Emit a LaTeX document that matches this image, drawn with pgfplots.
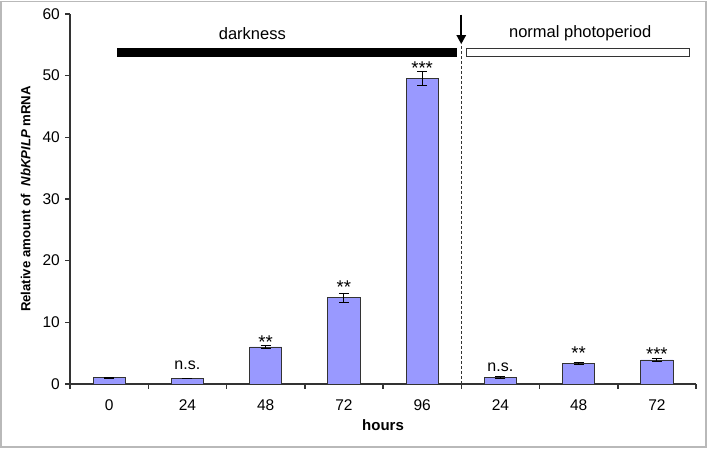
\documentclass[border=0pt]{standalone}
\usepackage{fontspec}
\setmainfont{Liberation Sans}
\usepackage{pgfplots}
\pgfplotsset{compat=1.18}
\usetikzlibrary{arrows.meta}
\definecolor{barfill}{HTML}{9999FF}
\definecolor{axgray}{HTML}{333333}

\begin{document}
\fontsize{15}{18}\selectfont
\begin{tikzpicture}
\begin{axis}[
  name=ax,
  scale only axis, width=626pt, height=370pt,
  xmin=-0.5, xmax=7.5, ymin=0, ymax=60,
  axis x line*=bottom, axis y line*=left,
  axis line style={axgray, line width=1.8pt},
  xtick={0,...,7},
  xticklabels={0,24,48,72,96,24,48,72},
  major x tick style={draw=none},
  minor xtick={-0.5,0.5,...,7.5},
  ytick={0,10,...,60},
  tick align=outside,
  major tick length=5pt, minor tick length=5pt,
  tick style={axgray, line width=1.5pt},
  ticklabel style={font=\fontsize{15.5}{18}\selectfont},
  xticklabel style={yshift=-5pt},
  /pgf/number format/assume math mode=true,
  clip=false,
  xlabel={\textbf{hours}},
  ylabel={\textbf{Relative amount of \ \textit{NbKPILP} mRNA}},
  every axis x label/.style={at={(axis description cs:0.5,-0.111)}, anchor=center,
    font=\fontsize{15}{18}\selectfont},
  every axis y label/.style={at={(axis description cs:-0.071,0.5)}, rotate=90, anchor=center,
    font=\fontsize{13.2}{16}\selectfont},
]
% bars with standard errors
\addplot[ybar, bar width=0.41, fill=barfill, draw=axgray, line width=0.8pt,
  error bars/.cd, y dir=both, y explicit,
  error bar style={black, line width=0.8pt},
  error mark options={rotate=90, mark size=5pt, black, line width=0.8pt}]
  table[x=x, y=y, y error=e]{
x y e
0 1.0 0.12
1 0.9 0.05
2 6.0 0.3
3 14.0 0.7
4 49.5 1.15
5 1.1 0.12
6 3.35 0.1
7 3.9 0.2
};
% n.s. labels (baseline at y)
\addplot[draw=none, mark=none, nodes near coords, point meta=explicit symbolic,
  nodes near coords style={anchor=base, inner sep=0pt, font=\fontsize{16}{18}\selectfont}]
  table[x=x, y=y, meta=l]{
x y l
1 2.3 n.s.
5 2.05 n.s.
};
% star labels (y = lower edge of the asterisks)
\addplot[draw=none, mark=none, nodes near coords, point meta=explicit symbolic,
  nodes near coords style={anchor=base, inner sep=0pt, yshift=-3.4pt,
    font=\fontsize{18.5}{20}\selectfont}]
  table[x=x, y=y, meta=l]{
x y l
2 6.35 **
3 15.2 **
4 50.8 ***
6 4.5 **
7 4.4 ***
};
% treatment periods
\fill[black] (axis cs:0.1,53) rectangle (axis cs:4.44,54.5);
\draw[axgray, fill=white, line width=0.8pt] (axis cs:4.56,53.05) rectangle (axis cs:7.42,54.35);
\draw[axgray, line width=0.8pt, dash pattern=on 3pt off 2pt] (axis cs:4.5,0) -- (axis cs:4.5,54.8);
\draw[black, line width=2.4pt, -{Triangle[length=9pt,width=9pt]}] (axis cs:4.5,59.9) -- (axis cs:4.5,55.1);
\node[font=\fontsize{16.5}{18}\selectfont] at (axis cs:1.83,56.9) {darkness};
\node[font=\fontsize{16.5}{18}\selectfont] at (axis cs:6.02,56.9) {normal photoperiod};
\end{axis}
\path ([shift={(-70pt,-65pt)}]ax.south west) rectangle ([shift={(12pt,14pt)}]ax.north east);
\draw[gray!55, line width=1.2pt] ([shift={(-69pt,-63pt)}]ax.south west) rectangle ([shift={(10pt,12.5pt)}]ax.north east);
\end{tikzpicture}
\end{document}
